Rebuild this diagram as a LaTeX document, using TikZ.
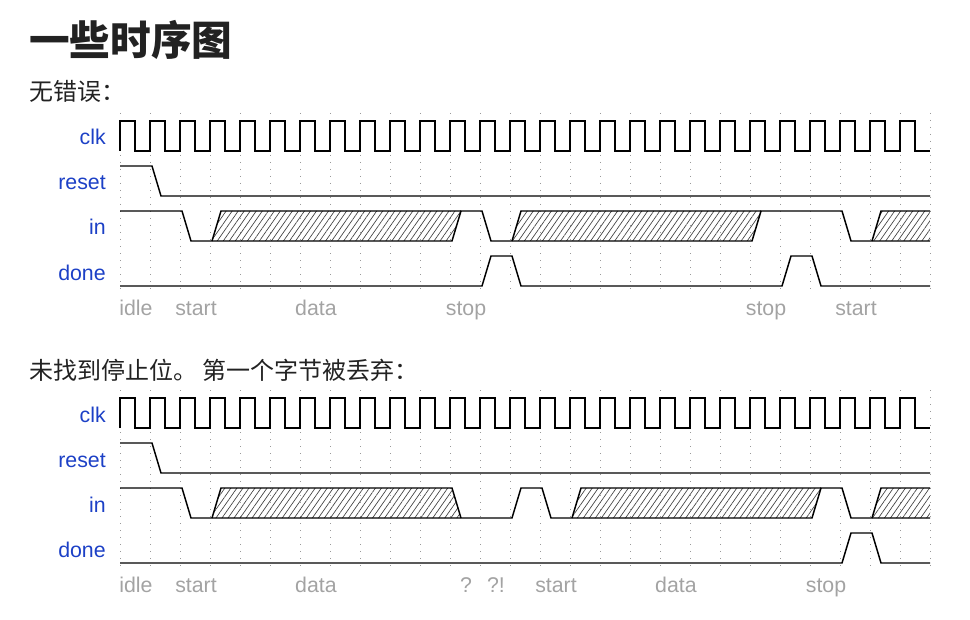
\documentclass[tikz,border=0pt]{standalone}
\usepackage{fontspec}
\setmainfont{Liberation Sans}
\newfontfamily\cjk{Noto Sans CJK SC}
\usetikzlibrary{patterns.meta}

\definecolor{sigblue}{HTML}{1C40C6}
\definecolor{lblgray}{HTML}{A3A3A3}
\definecolor{gridgray}{HTML}{9A9A9A}
\definecolor{hatchgray}{HTML}{404040}
\definecolor{inkdark}{HTML}{222222}

\begin{document}
\begin{tikzpicture}[x=0.75pt,y=-0.75pt,
  sigline/.style={line width=1.1pt,line join=miter},
  gridline/.style={gridgray,line width=0.6pt,dash pattern=on 0.75pt off 4.5pt},
  busfill/.style={pattern={Lines[angle=55,distance=3.7pt,line width=0.5pt]},pattern color=hatchgray},
  signame/.style={font=\fontsize{16}{19}\selectfont,text=sigblue,anchor=base east,inner sep=0pt},
  phase/.style={font=\fontsize{16}{19}\selectfont,text=lblgray,anchor=base,inner sep=0pt}]
  \useasboundingbox (0,0) rectangle (970,620);

  % Headings
  \node[anchor=base west,inner sep=0pt,text=inkdark,font=\cjk\bfseries\fontsize{30.5}{34}\selectfont] (title) at (29,56) {一些时序图};
  \node[anchor=base west,inner sep=0pt,text=inkdark,font=\cjk\fontsize{18}{22}\selectfont] (caseA) at (29,101) {无错误：};
  \node[anchor=base west,inner sep=0pt,text=inkdark,font=\cjk\fontsize{18}{22}\selectfont] (caseB) at (29,379) {未找到停止位。 第一个字节被丢弃：};

  % Common part of both charts (grid, names, clk, reset)
  \foreach \o/\s in {0/a,277/b} {
    \foreach \k in {0,...,27}
      \draw[gridline] ({120+30*\k},{113+\o}) -- ({120+30*\k},{290+\o});
    \node[signame] (clk-\s) at (106,{145+\o}) {clk};
    \node[signame] (reset-\s) at (106,{190+\o}) {reset};
    \node[signame] (in-\s) at (106,{235+\o}) {in};
    \node[signame] (done-\s) at (106,{280+\o}) {done};
    \draw[sigline] (120,{151+\o}) \foreach \k in {0,...,26} {
      -- ({120+30*\k},{121+\o}) -- ({135+30*\k},{121+\o})
      -- ({135+30*\k},{151+\o}) -- ({150+30*\k},{151+\o}) };
    \draw[sigline] (120,{166+\o}) -- (152,{166+\o}) -- (161,{196+\o}) -- (930,{196+\o});
  }

  % No error: in
  \fill[busfill] (212,241) -- (221,211) -- (461,211) -- (452,241) -- cycle;
  \fill[busfill] (512,241) -- (521,211) -- (761,211) -- (752,241) -- cycle;
  \fill[busfill] (872,241) -- (881,211) -- (930,211) -- (930,241) -- cycle;
  \draw[sigline] (120,211) -- (182,211) -- (191,241) -- (452,241) -- (461,211)
    -- (482,211) -- (491,241) -- (752,241) -- (761,211) -- (842,211) -- (851,241) -- (930,241);
  \draw[sigline] (212,241) -- (221,211) -- (461,211);
  \draw[sigline] (512,241) -- (521,211) -- (761,211);
  \draw[sigline] (872,241) -- (881,211) -- (930,211);
  % No error: done
  \draw[sigline] (120,286) -- (482,286) -- (491,256) -- (512,256) -- (521,286)
    -- (782,286) -- (791,256) -- (812,256) -- (821,286) -- (930,286);

  % No error: phases
  \node[phase] (idle-a) at (136,315) {idle};
  \node[phase] (start-a) at (196,315) {start};
  \node[phase] (data-a) at (316,315) {data};
  \node[phase] (stop-a) at (466,315) {stop};
  \node[phase] (stop-a2) at (766,315) {stop};
  \node[phase] (start-a2) at (856,315) {start};

  % Stop bit missing: in
  \fill[busfill] (212,518) -- (221,488) -- (452,488) -- (461,518) -- cycle;
  \fill[busfill] (572,518) -- (581,488) -- (821,488) -- (812,518) -- cycle;
  \fill[busfill] (872,518) -- (881,488) -- (930,488) -- (930,518) -- cycle;
  \draw[sigline] (120,488) -- (182,488) -- (191,518) -- (512,518) -- (521,488) -- (542,488)
    -- (551,518) -- (812,518) -- (821,488) -- (842,488) -- (851,518) -- (930,518);
  \draw[sigline] (212,518) -- (221,488) -- (452,488) -- (461,518);
  \draw[sigline] (572,518) -- (581,488) -- (821,488);
  \draw[sigline] (872,518) -- (881,488) -- (930,488);
  % Stop bit missing: done
  \draw[sigline] (120,563) -- (842,563) -- (851,533) -- (872,533) -- (881,563) -- (930,563);

  % Stop bit missing: phases
  \node[phase] (idle-b) at (136,592) {idle};
  \node[phase] (start-b) at (196,592) {start};
  \node[phase] (data-b) at (316,592) {data};
  \node[phase] (what-b) at (466,592) {?};
  \node[phase] (huh-b) at (496,592) {?!};
  \node[phase] (start-b2) at (556,592) {start};
  \node[phase] (data-b2) at (676,592) {data};
  \node[phase] (stop-b) at (826,592) {stop};
\end{tikzpicture}
\end{document}
